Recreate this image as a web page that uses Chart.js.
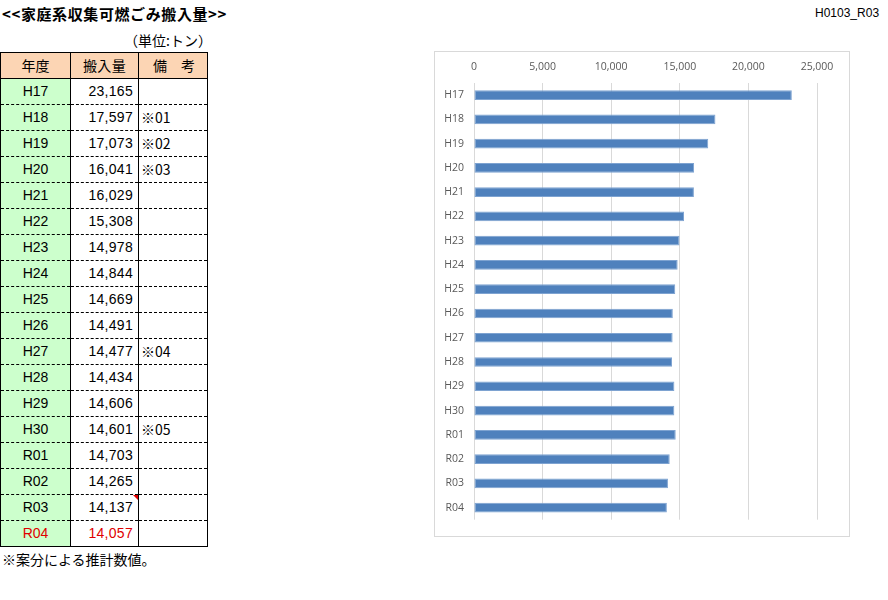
<!DOCTYPE html>
<html><head><meta charset="utf-8">
<script src="https://cdn.jsdelivr.net/npm/chart.js@4.4.1/dist/chart.umd.min.js"></script>
<style>
html,body{margin:0;padding:0;background:#fff;width:888px;height:600px;overflow:hidden;position:relative;font-family:"Noto Sans CJK JP","Liberation Sans",sans-serif;}
.abs{position:absolute;white-space:nowrap;}
#title{left:2px;top:3px;font-size:15px;font-weight:bold;color:#000;letter-spacing:0.6px;}
#code{left:815px;top:6px;font-size:12px;color:#000;font-family:"Liberation Sans",sans-serif;}
#unit{left:124px;top:30px;font-size:14px;color:#000;}
#note{left:2px;top:549px;font-size:14px;color:#000;}
table{position:absolute;left:0;top:52px;border-collapse:collapse;font-size:14px;}
td{height:25px;padding:0;border-left:1px solid #000;border-right:1px solid #000;border-bottom:1px dashed #000;line-height:25px;}
tr.h td{background:#FCD5B4;border-top:1px solid #000;border-bottom:1px solid #000;text-align:center;}
td.y{width:69px;background:#CCFFCC;text-align:center;font-family:"Liberation Sans",sans-serif;}
td.v{width:67px;text-align:right;padding-right:0;font-family:"Liberation Sans",sans-serif;position:relative;letter-spacing:0.3px;}
td.v span{padding-right:5px;}
td.n{text-align:left;padding-left:2px;width:66px;}
tr.last td{border-bottom:1px solid #000;}
tr.red td.y, tr.red td.v{color:#E00000;}
.tri{position:absolute;right:0;top:0;width:0;height:0;border-top:5px solid #E00000;border-left:5px solid transparent;}
#box{position:absolute;left:434px;top:51px;width:414px;height:484px;border:1px solid #D9D9D9;}
#box canvas{position:absolute;left:0;top:0;}
</style></head>
<body>
<div id="title" class="abs">&lt;&lt;家庭系収集可燃ごみ搬入量&gt;&gt;</div>
<div id="code" class="abs">H0103_R03</div>
<div id="unit" class="abs">（単位:トン）</div>
<table id="tbl"></table>
<div id="note" class="abs">※案分による推計数値。</div>
<div id="box"><canvas id="c" width="414" height="484"></canvas></div>
<script>
const categories = ["H17","H18","H19","H20","H21","H22","H23","H24","H25","H26","H27","H28","H29","H30","R01","R02","R03","R04"];
const amounts = [23165,17597,17073,16041,16029,15308,14978,14844,14669,14491,14477,14434,14606,14601,14703,14265,14137,14057];
const notes = ["","※01","※02","※03","","","","","","","※04","","","※05","","","",""];
const xTicks = [0,5000,10000,15000,20000,25000];

// table
const tbl = document.getElementById('tbl');
let html = '<tr class="h"><td class="y" style="background:#FCD5B4;font-family:\'Noto Sans CJK JP\'">年度</td><td class="v" style="text-align:center;font-family:\'Noto Sans CJK JP\'">搬入量</td><td class="n" style="text-align:center">備　考</td></tr>';
categories.forEach((c,i)=>{
  const cls = (i===categories.length-1?'last red':'');
  const tri = c==="R03" ? '<div class="tri"></div>' : '';
  html += `<tr class="${cls}"><td class="y">${c}</td><td class="v">${tri}<span>${amounts[i].toLocaleString('en-US')}</span></td><td class="n">${notes[i]}</td></tr>`;
});
tbl.innerHTML = html;

// chart
const ctx = document.getElementById('c');
new Chart(ctx, {
  type:'bar',
  data:{labels:categories,datasets:[{data:amounts,backgroundColor:'#4F81BD',borderColor:'#7EA3D1',borderWidth:1,borderSkipped:false,categoryPercentage:1.0,barPercentage:0.4}]},
  options:{
    indexAxis:'y',responsive:false,animation:false,
    layout:{padding:{left:0,right:32,top:0,bottom:14}},
    plugins:{legend:{display:false},tooltip:{enabled:false}},
    scales:{
      x:{position:'top',min:0,max:25000,
        afterBuildTicks:(s)=>{s.ticks=xTicks.map(v=>({value:v}));},
        afterFit:(s)=>{s.height=31;},
        grid:{color:'#D9D9D9',drawTicks:false},border:{display:false},
        ticks:{padding:10,color:'#595959',font:{family:'"Open Sans","Liberation Sans",sans-serif',size:10.5},callback:(v)=>v.toLocaleString('en-US')}},
      y:{afterFit:(s)=>{s.width=39;},
        grid:{display:false,drawTicks:false},border:{display:false},
        ticks:{padding:10,color:'#595959',font:{family:'"Open Sans","Liberation Sans",sans-serif',size:10.5}}}
    }
  }
});
</script>
</body></html>
